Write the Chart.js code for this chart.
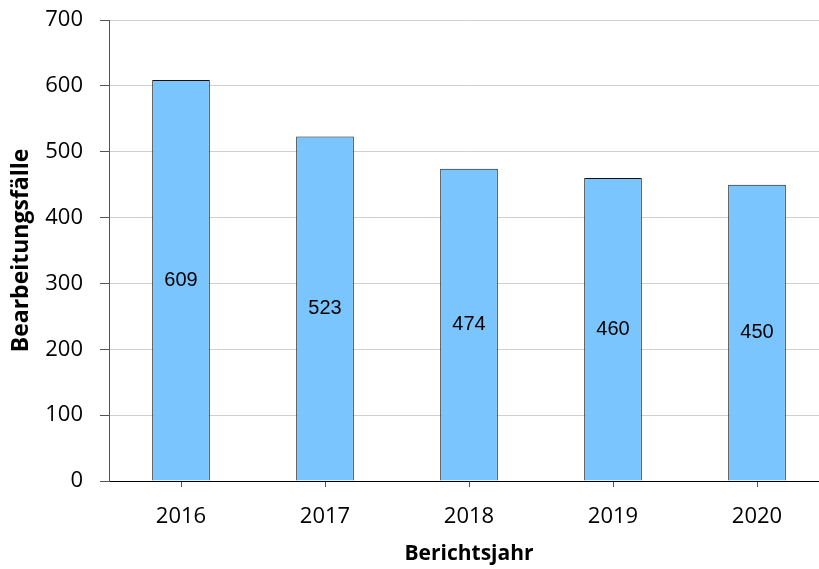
<!DOCTYPE html>
<html>
<head>
<meta charset="utf-8">
<script src="https://cdn.jsdelivr.net/npm/chart.js@4"></script>
<style>
  html, body { margin: 0; padding: 0; background: #fff; overflow: hidden; }
  #wrap { width: 840px; height: 569px; position: relative; }
</style>
</head>
<body>
<div id="wrap"><canvas id="faelleChart"></canvas></div>
<script>
// Bearbeitungsfälle je Berichtsjahr
var years = ['2016', '2017', '2018', '2019', '2020'];
var cases = [609, 523, 474, 460, 450];

var yTitle = 'Bearbeitungsfälle';
var xTitle = 'Berichtsjahr';

// writes the value in the middle of each bar
var valueLabels = {
    id: 'valueLabels',
    afterDatasetsDraw: function (chart) {
        var ctx = chart.ctx;
        var meta = chart.getDatasetMeta(0);
        ctx.save();
        ctx.font = '20px "Liberation Sans", Arial, sans-serif';
        ctx.fillStyle = '#000';
        ctx.textAlign = 'center';
        ctx.textBaseline = 'middle';
        meta.data.forEach(function (bar, i) {
            ctx.fillText(cases[i], bar.x, (bar.y + bar.base) / 2);
        });
        ctx.restore();
    }
};

document.addEventListener('DOMContentLoaded', function () {
    var ctx = document.getElementById('faelleChart').getContext('2d');

    new Chart(ctx, {
        type: 'bar',
        data: {
            labels: years,
            datasets: [{
                data: cases,
                backgroundColor: '#7bc5ff',
                borderColor: '#111',
                borderWidth: 1,
                barPercentage: 0.4,
                categoryPercentage: 1.0
            }]
        },
        options: {
            responsive: true,
            maintainAspectRatio: false,
            animation: false,
            layout: { padding: { top: 0, right: 11, left: 0, bottom: 0 } },
            plugins: {
                legend: { display: false },
                tooltip: { enabled: false }
            },
            scales: {
                x: {
                    afterFit: function (scale) { scale.height = 88; },
                    grid: {
                        offset: false,
                        drawOnChartArea: false,
                        drawTicks: true,
                        tickLength: 6,
                        color: '#555'
                    },
                    border: { color: '#000', width: 1 },
                    ticks: {
                        font: { family: '"Open Sans"', size: 22 },
                        color: '#000',
                        padding: 17
                    },
                    title: {
                        display: true,
                        text: xTitle,
                        font: { family: '"Open Sans"', size: 21, weight: 'bold' },
                        color: '#000',
                        padding: { top: 0, bottom: 2 }
                    }
                },
                y: {
                    min: 0,
                    max: 700,
                    afterFit: function (scale) {
                        scale.width = 109;
                        scale.paddingTop = 20;
                    },
                    ticks: {
                        stepSize: 100,
                        font: { family: '"Open Sans"', size: 22 },
                        color: '#000',
                        padding: 17
                    },
                    grid: {
                        color: '#d0d0d0',
                        tickColor: '#555',
                        tickLength: 9
                    },
                    border: { color: '#555', width: 1 },
                    title: {
                        display: true,
                        text: yTitle,
                        font: { family: '"Open Sans"', size: 23, weight: 'bold' },
                        color: '#000',
                        padding: { top: 8, bottom: 0 }
                    }
                }
            }
        },
        plugins: [valueLabels]
    });
});
</script>
</body>
</html>
